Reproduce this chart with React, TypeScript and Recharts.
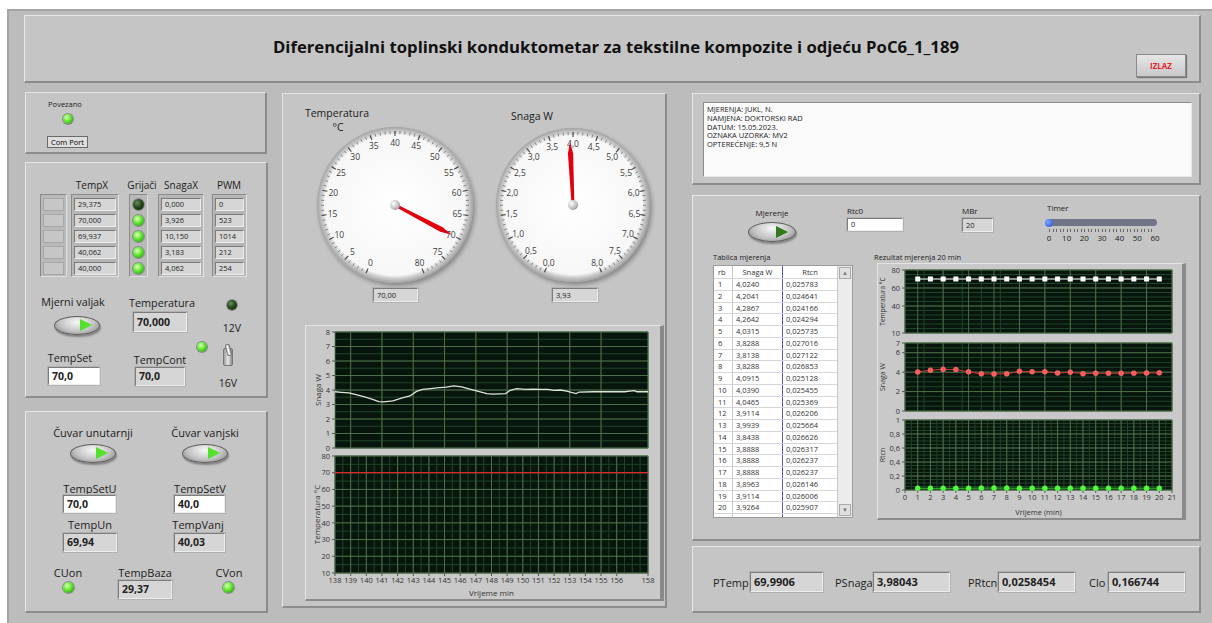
import React from "react";
import {
  LineChart,
  Line,
  XAxis,
  YAxis,
  CartesianGrid,
  PieChart,
  Pie,
  RadialBarChart,
  RadialBar,
  PolarAngleAxis
} from "recharts";

const FONT = '"Open Sans", "Noto Sans", Arial, sans-serif';

// ---- kanali (lijevi panel) ----
const tempX = [29.375, 70.0, 69.937, 40.062, 40.0];
const grijaci = [false, true, true, true, true];
const snagaX = [0.0, 3.926, 10.15, 3.183, 4.062];
const pwm = [0, 523, 1014, 212, 254];

// ---- instrumenti ----
const gaugeTemp = 70.0;
const gaugeSnaga = 3.93;

// ---- trend zadnjih 20 min ----
const trendTime = [
  138.0, 138.4, 138.9, 139.4, 139.9, 140.4, 140.8, 141.1, 141.7, 142.3, 142.8, 143.2,
  143.6, 144.1, 144.5, 145.1, 145.6, 146.1, 146.5, 147.1, 147.7, 148.1, 148.9, 149.2,
  149.6, 150.2, 150.7, 151.1, 151.6, 152.0, 152.4, 152.8, 153.4, 153.6, 154.5, 155.5,
  156.5, 157.1, 157.3, 158.0
];
const trendSnaga = [
  3.88, 3.84, 3.8, 3.66, 3.52, 3.36, 3.2, 3.18, 3.25, 3.45, 3.59, 3.9,
  4.05, 4.1, 4.14, 4.2, 4.28, 4.21, 4.1, 3.93, 3.75, 3.72, 3.75, 3.98,
  4.1, 4.05, 4.06, 4.05, 4.05, 3.98, 4.0, 3.93, 3.75, 3.86, 3.88, 3.88,
  3.88, 3.95, 3.88, 3.88
];
const trendTemp = [
  70.0, 70.0, 70.0, 70.0, 70.0, 70.0, 70.0, 70.0, 70.0, 70.0, 70.0, 70.0,
  70.0, 70.0, 70.0, 70.0, 70.0, 70.0, 70.0, 70.0, 70.0, 70.0, 70.0, 70.0,
  70.0, 70.0, 70.0, 70.0, 70.0, 70.0, 70.0, 70.0, 70.0, 70.0, 70.0, 70.0,
  70.0, 70.0, 70.0, 70.0
];
const trendTicks = [138, 139, 140, 141, 142, 143, 144, 145, 146, 147, 148, 149, 150, 151, 152, 153, 154, 155, 156, 158];
const trendSnagaTicks = [0, 1, 2, 3, 4, 5, 6, 7, 8];
const trendTempTicks = [10, 20, 30, 40, 50, 60, 70, 80];

// ---- tablica mjerenja ----
const mjerenjeRb = [1, 2, 3, 4, 5, 6, 7, 8, 9, 10, 11, 12, 13, 14, 15, 16, 17, 18, 19, 20];
const mjerenjeSnaga = [
  4.024, 4.2041, 4.2867, 4.2642, 4.0315, 3.8288, 3.8138, 3.8288, 4.0915, 4.039,
  4.0465, 3.9114, 3.9939, 3.8438, 3.8888, 3.8888, 3.8888, 3.8963, 3.9114, 3.9264
];
const mjerenjeRtcn = [
  0.025783, 0.024641, 0.024166, 0.024294, 0.025735, 0.027016, 0.027122, 0.026853, 0.025128, 0.025455,
  0.025369, 0.026206, 0.025664, 0.026626, 0.026317, 0.026237, 0.026237, 0.026146, 0.026006, 0.025907
];
const mjerenjeTemp = [
  70.0, 70.0, 69.99, 70.0, 69.99, 70.0, 70.0, 69.99, 70.0, 70.0,
  69.99, 70.0, 70.0, 69.99, 70.0, 70.0, 69.99, 70.0, 70.0, 69.99
];
const rezTicksX = [0, 1, 2, 3, 4, 5, 6, 7, 8, 9, 10, 11, 12, 13, 14, 15, 16, 17, 18, 19, 20, 21];
const rezTempTicks = [10, 40, 60, 80];
const rezSnagaTicks = [0, 2, 4, 6, 7];
const rezRtcnTicks = [0, 0.2, 0.4, 0.6, 0.8, 1];

const opis = [
  "MJERENJA: JUKL, N.",
  "NAMJENA: DOKTORSKI RAD",
  "DATUM: 15.05.2023.",
  "OZNAKA UZORKA: MV2",
  "OPTEREĆENJE: 9,5 N"
];
const timerTicks = [0, 10, 20, 30, 40, 50, 60];

const rezultati = [
  { label: "PTemp", value: "69,9906" },
  { label: "PSnaga", value: "3,98043" },
  { label: "PRtcn", value: "0,0258454" },
  { label: "Clo", value: "0,166744" }
];

// grid helper (mreža, ne podaci)
const steps = (a: number, b: number, s: number) => {
  const out: number[] = [];
  for (let v = a; v <= b + 1e-9; v += s) out.push(Math.round(v * 1000) / 1000);
  return out;
};

const dec = (v: number, n: number) => v.toFixed(n).replace(".", ",");
const comma = (v: number) => String(v).replace(".", ",");

const PLOT_BG = "#08150d";
const GRID_MINOR = "#1f4428";
const GRID_MAJOR = "#5a7850";
const AXS = { fontSize: 7.5, fill: "#333", fontFamily: FONT };

const trendData = trendTime.map((t, i) => ({ t, snaga: trendSnaga[i], temp: trendTemp[i] }));
const rezData = mjerenjeRb.map((rb, i) => ({
  rb,
  temp: mjerenjeTemp[i],
  snaga: mjerenjeSnaga[i],
  rtcn: mjerenjeRtcn[i]
}));

function Panel({ x, y, w, h, bg = "#c5c5c5" }: any) {
  return (
    <div
      style={{
        position: "absolute",
        left: x,
        top: y,
        width: w,
        height: h,
        background: bg,
        borderTop: "1px solid #e6e6e6",
        borderLeft: "1px solid #e6e6e6",
        borderRight: "2px solid #8c8c8c",
        borderBottom: "2px solid #8c8c8c",
        boxSizing: "border-box"
      }}
    />
  );
}

function T({ x, y, s = 11, b = false, left = false, color = "#1c1c1c", children }: any) {
  return (
    <div
      style={{
        position: "absolute",
        left: x,
        top: y,
        transform: left ? "translate(0,-50%)" : "translate(-50%,-50%)",
        fontSize: s,
        fontWeight: b ? 700 : 400,
        color,
        whiteSpace: "nowrap",
        lineHeight: 1
      }}
    >
      {children}
    </div>
  );
}

function Box({ x, y, w, h, text, white = false, bold = false, s = 8 }: any) {
  return (
    <div
      style={{
        position: "absolute",
        left: x,
        top: y,
        width: w,
        height: h,
        background: white ? "#ffffff" : "#d6d6d6",
        borderTop: "1px solid #7c7c7c",
        borderLeft: "1px solid #7c7c7c",
        borderRight: "1px solid #ededed",
        borderBottom: "1px solid #ededed",
        boxShadow: "0 0 0 1px #b2b2b2",
        boxSizing: "border-box",
        fontSize: s,
        fontWeight: bold ? 700 : 400,
        lineHeight: `${h - 2}px`,
        paddingLeft: 3,
        whiteSpace: "nowrap",
        overflow: "hidden",
        color: "#222"
      }}
    >
      {text}
    </div>
  );
}

function Frame({ x, y, w, h }: any) {
  return (
    <div
      style={{
        position: "absolute",
        left: x,
        top: y,
        width: w,
        height: h,
        background: "#b9b9b9",
        borderTop: "1px solid #8a8a8a",
        borderLeft: "1px solid #8a8a8a",
        borderRight: "1px solid #e0e0e0",
        borderBottom: "1px solid #e0e0e0",
        boxSizing: "border-box"
      }}
    />
  );
}

function Led({ x, y, d = 11, on = true }: any) {
  return (
    <div
      style={{
        position: "absolute",
        left: x - d / 2,
        top: y - d / 2,
        width: d,
        height: d,
        borderRadius: "50%",
        background: on
          ? "radial-gradient(circle at 38% 35%, #e4ffc8 0%, #74f040 35%, #38b01c 75%, #22700f 100%)"
          : "radial-gradient(circle at 38% 35%, #6d8a62 0%, #234a1a 45%, #0d1f09 100%)",
        boxShadow: "0 0 0 1px #8a8a8a"
      }}
    />
  );
}

function Toggle({ x, y, w = 46, h = 19, dark = false }: any) {
  return (
    <div
      style={{
        position: "absolute",
        left: x - w / 2,
        top: y - h / 2,
        width: w,
        height: h,
        borderRadius: "50%",
        background: "radial-gradient(ellipse at 50% 30%, #f6f6f6 0%, #c4c4c4 55%, #7c7c7c 100%)",
        border: "1px solid #5e5e5e",
        boxShadow: "1px 2px 2px rgba(0,0,0,0.35)",
        boxSizing: "border-box"
      }}
    >
      <div
        style={{
          position: "absolute",
          right: 7,
          top: (h - 2 - 12) / 2,
          width: 0,
          height: 0,
          borderLeft: `12px solid ${dark ? "#2f7a1c" : "#52e22c"}`,
          borderTop: "6px solid transparent",
          borderBottom: "6px solid transparent"
        }}
      />
    </div>
  );
}

// k: skala osi u koracima (snaga se crta u desetinkama)
function Gauge({ cx, cy, r, value, min, max, k, fmt }: any) {
  const size = 2 * r + 8;
  const face = r - 4;
  const m = { top: 0, right: 0, bottom: 0, left: 0 };
  const layer: any = { position: "absolute", left: 0, top: 0 };
  const START = 247;
  const END = -67;
  const span = (max - min) * k;

  const tickLabel = (p: any) => {
    const a = (-(p.payload?.coordinate ?? 0) * Math.PI) / 180;
    const d = 6;
    return (
      <text
        x={p.x - d * Math.cos(a)}
        y={p.y - d * Math.sin(a)}
        textAnchor="middle"
        dominantBaseline="central"
        fontSize={8.5}
        fill="#3c3c3c"
        fontFamily={FONT}
      >
        {fmt(p.payload.value / k)}
      </text>
    );
  };

  const needle = (p: any) => {
    if (p.index !== 0) return <g />;
    const a = (-p.endAngle * Math.PI) / 180;
    const ux = Math.cos(a);
    const uy = Math.sin(a);
    const nx = -uy;
    const ny = ux;
    const L = p.outerRadius;
    const px = (f: number, w: number) => `${p.cx + ux * L * f + nx * w},${p.cy + uy * L * f + ny * w}`;
    const pts = [px(0, 1.4), px(0.82, 2.6), px(1, 0), px(0.82, -2.6), px(0, -1.4)].join(" ");
    return <polygon points={pts} fill="#e2000c" />;
  };

  const axisLayer = (count: number, size2: number, major: boolean) => (
    <div style={layer}>
      <RadialBarChart
        width={size}
        height={size}
        margin={m}
        data={[{ v: value * k }]}
        cx="50%"
        cy="50%"
        innerRadius={0}
        outerRadius={face}
        startAngle={START}
        endAngle={END}
      >
        <PolarAngleAxis
          type="number"
          domain={[min * k, max * k]}
          tickCount={count}
          orientation="inner"
          tickSize={size2}
          axisLine={false}
          tick={major ? tickLabel : false}
          tickLine={major ? { stroke: "#4a4a4a", strokeWidth: 1.1 } : { stroke: "#707070", strokeWidth: 0.8 }}
        />
        <RadialBar dataKey="v" fill="none" isAnimationActive={false} />
      </RadialBarChart>
    </div>
  );

  return (
    <div style={{ position: "absolute", left: cx - size / 2, top: cy - size / 2, width: size, height: size }}>
      <div
        style={{
          position: "absolute",
          left: 4,
          top: 4,
          width: 2 * r,
          height: 2 * r,
          borderRadius: "50%",
          background:
            "radial-gradient(circle closest-side, #ffffff 0%, #f7f7f7 90%, #cfcfcf 94%, #a2a2a2 100%)",
          boxShadow: "2px 3px 4px rgba(0,0,0,0.3)"
        }}
      />
      {axisLayer(span + 1, 3, false)}
      {axisLayer(span / 5 + 1, 5, true)}
      <div style={layer}>
        <PieChart width={size} height={size} margin={m}>
          <Pie
            data={[{ v: value - min }, { v: max - value }]}
            dataKey="v"
            cx="50%"
            cy="50%"
            startAngle={START}
            endAngle={END}
            innerRadius={0}
            outerRadius={r - 14}
            fill="none"
            stroke="none"
            labelLine={false}
            label={needle}
            isAnimationActive={false}
          />
        </PieChart>
      </div>
      <div
        style={{
          position: "absolute",
          left: size / 2 - 5,
          top: size / 2 - 5,
          width: 10,
          height: 10,
          borderRadius: "50%",
          background: "radial-gradient(circle at 35% 35%, #ffffff 0%, #bdbdbd 55%, #6e6e6e 100%)"
        }}
      />
    </div>
  );
}

const squareDot = (p: any) => (
  <rect key={`sq-${p.index}`} x={p.cx - 2.5} y={p.cy - 2.5} width={5} height={5} fill="#ffffff" />
);

const yLabel = (value: string, offset: number, fs: number) => ({
  value,
  angle: -90,
  position: "insideLeft" as const,
  offset,
  style: { textAnchor: "middle", fontSize: fs, fill: "#333", fontFamily: FONT }
});

export default function App() {
  return (
    <div
      style={{
        position: "absolute",
        left: 0,
        top: 0,
        width: 1212,
        height: 623,
        background: "#ffffff",
        fontFamily: FONT,
        overflow: "hidden"
      }}
    >
      <div
        style={{
          position: "absolute",
          left: 7,
          top: 9,
          width: 1205,
          height: 614,
          background: "#bcbcbc",
          borderLeft: "2px solid #a4a4a4",
          borderTop: "2px solid #a4a4a4",
          boxSizing: "border-box"
        }}
      />

      {/* naslov */}
      <Panel x={24} y={15} w={1177} h={68} />
      <T x={616} y={47} s={16.7} b color="#111">
        Diferencijalni toplinski konduktometar za tekstilne kompozite i odjeću PoC6_1_189
      </T>
      <div
        style={{
          position: "absolute",
          left: 1136,
          top: 54,
          width: 50,
          height: 23,
          background: "linear-gradient(#e6e6e6, #c8c8c8)",
          border: "1px solid #8a8a8a",
          boxShadow: "1px 1px 1px #777",
          boxSizing: "border-box",
          color: "#e8202a",
          fontSize: 8,
          fontWeight: 700,
          textAlign: "center",
          lineHeight: "21px"
        }}
      >
        IZLAZ
      </div>

      {/* lijevo: veza */}
      <Panel x={25} y={92} w={242} h={62} />
      <T x={65} y={105} s={7.5}>Povezano</T>
      <Led x={68} y={119} d={10} />
      <div
        style={{
          position: "absolute",
          left: 47,
          top: 136,
          width: 41,
          height: 12,
          background: "#dedede",
          border: "1px solid #6a6a6a",
          boxSizing: "border-box",
          fontSize: 7.5,
          textAlign: "center",
          lineHeight: "10px"
        }}
      >
        Com Port
      </div>

      {/* lijevo: kanali */}
      <Panel x={25} y={162} w={243} h={236} />
      <T x={92} y={185} s={10}>TempX</T>
      <T x={142} y={185} s={10}>Grijači</T>
      <T x={181} y={185} s={10}>SnagaX</T>
      <T x={229} y={185} s={10}>PWM</T>
      <Frame x={40} y={194} w={27} h={83} />
      <Frame x={71} y={194} w={48} h={83} />
      <Frame x={129} y={194} w={19} h={83} />
      <Frame x={158} y={194} w={46} h={83} />
      <Frame x={212} y={194} w={35} h={83} />
      {tempX.map((v, i) => (
        <React.Fragment key={`k${i}`}>
          <div
            style={{
              position: "absolute",
              left: 43,
              top: 198 + i * 16,
              width: 21,
              height: 13,
              background: "#c6c6c6",
              border: "1px solid #a8a8a8",
              boxSizing: "border-box"
            }}
          />
          <Box x={74} y={198 + i * 16} w={42} h={13} text={dec(v, 3)} s={7.5} />
          <Led x={138.5} y={204.5 + i * 16} d={11} on={grijaci[i]} />
          <Box x={161} y={198 + i * 16} w={40} h={13} text={dec(snagaX[i], 3)} s={7.5} />
          <Box x={215} y={198 + i * 16} w={29} h={13} text={String(pwm[i])} s={7.5} />
        </React.Fragment>
      ))}
      <T x={73} y={302} s={10.8}>Mjerni valjak</T>
      <Toggle x={77} y={325} />
      <T x={162} y={303} s={10.8}>Temperatura</T>
      <Box x={133} y={312} w={54} h={20} text="70,000" bold s={10.5} />
      <Led x={232} y={305} d={10} on={false} />
      <T x={232} y={328} s={10.5}>12V</T>
      <T x={70} y={358} s={10.8}>TempSet</T>
      <Box x={48} y={367} w={52} h={18} text="70,0" white bold s={10.5} />
      <T x={160} y={360} s={10.8}>TempCont</T>
      <Box x={135} y={367} w={50} h={19} text="70,0" bold s={10.5} />
      <Led x={202} y={347} d={10} />
      <div
        style={{
          position: "absolute",
          left: 223,
          top: 348,
          width: 10,
          height: 18,
          borderRadius: 2,
          background: "linear-gradient(90deg, #9c9c9c, #e8e8e8, #8a8a8a)",
          border: "1px solid #777",
          boxSizing: "border-box"
        }}
      />
      <div
        style={{
          position: "absolute",
          left: 226,
          top: 344,
          width: 5,
          height: 12,
          borderRadius: 2,
          background: "linear-gradient(90deg, #d8d8d8, #ffffff, #9a9a9a)",
          border: "1px solid #777",
          transform: "rotate(-15deg)",
          boxSizing: "border-box"
        }}
      />
      <T x={228} y={383} s={10.5}>16V</T>

      {/* lijevo: čuvari */}
      <Panel x={25} y={411} w={243} h={202} />
      <T x={93} y={432} s={11}>Čuvar unutarnji</T>
      <T x={205} y={432} s={11}>Čuvar vanjski</T>
      <Toggle x={93} y={453} />
      <Toggle x={205} y={453} />
      <T x={90} y={488} s={11}>TempSetU</T>
      <T x={200} y={488} s={11}>TempSetV</T>
      <Box x={63} y={495} w={53} h={18} text="70,0" white bold s={10.5} />
      <Box x={174} y={495} w={51} h={18} text="40,0" white bold s={10.5} />
      <T x={90} y={524} s={11}>TempUn</T>
      <T x={198} y={524} s={11}>TempVanj</T>
      <Box x={63} y={533} w={54} h={19} text="69,94" bold s={10.5} />
      <Box x={174} y={533} w={51} h={19} text="40,03" bold s={10.5} />
      <T x={68} y={572} s={11}>CUon</T>
      <T x={145} y={572} s={11}>TempBaza</T>
      <T x={229} y={572} s={11}>CVon</T>
      <Led x={68} y={587} d={11} />
      <Led x={228} y={587} d={11} />
      <Box x={118} y={580} w={54} h={19} text="29,37" bold s={10.5} />

      {/* sredina */}
      <Panel x={282} y={93} w={385} h={515} />
      <T x={337} y={113} s={10.5}>Temperatura</T>
      <T x={338} y={127} s={10.5}>°C</T>
      <T x={532} y={116} s={10.5}>Snaga W</T>
      <Gauge cx={395} cy={205} r={78} value={gaugeTemp} min={0} max={80} k={1} fmt={(v: number) => String(v)} />
      <Gauge cx={573} cy={205} r={77} value={gaugeSnaga} min={0} max={8} k={10} fmt={(v: number) => dec(v, 1)} />
      <Box x={373} y={288} w={45} h={14} text={dec(gaugeTemp, 2)} s={7.5} />
      <Box x={552} y={288} w={46} h={14} text={dec(gaugeSnaga, 2)} s={7.5} />

      <div
        style={{
          position: "absolute",
          left: 305,
          top: 325,
          width: 359,
          height: 276,
          background: "#c9c9c9",
          borderTop: "1px solid #e4e4e4",
          borderLeft: "1px solid #e4e4e4",
          borderRight: "4px solid #8a8a8a",
          borderBottom: "2px solid #8a8a8a",
          boxSizing: "border-box"
        }}
      />
      <div style={{ position: "absolute", left: 300, top: 326 }}>
        <LineChart width={355} height={128} data={trendData} margin={{ top: 6, right: 7, bottom: 6, left: 0 }}>
          <CartesianGrid
            horizontalValues={steps(0, 8, 0.5)}
            verticalValues={steps(138, 158, 0.5)}
            stroke={GRID_MINOR}
            fill={PLOT_BG}
          />
          <CartesianGrid stroke={GRID_MAJOR} strokeWidth={0.8} />
          <XAxis dataKey="t" type="number" domain={[138, 158]} ticks={trendTicks} hide />
          <YAxis
            domain={[0, 8]}
            ticks={trendSnagaTicks}
            interval={0}
            width={35}
            tick={AXS}
            tickSize={3}
            tickLine={{ stroke: "#555" }}
            axisLine={false}
            label={yLabel("Snaga W", 18, 8)}
          />
          <Line type="linear" dataKey="snaga" stroke="#dce4dc" strokeWidth={1.3} dot={false} isAnimationActive={false} />
        </LineChart>
      </div>
      <div style={{ position: "absolute", left: 300, top: 450 }}>
        <LineChart width={355} height={150} data={trendData} margin={{ top: 6, right: 7, bottom: 0, left: 0 }}>
          <CartesianGrid
            horizontalValues={steps(10, 80, 5)}
            verticalValues={steps(138, 158, 0.5)}
            stroke={GRID_MINOR}
            fill={PLOT_BG}
          />
          <CartesianGrid stroke={GRID_MAJOR} strokeWidth={0.8} />
          <XAxis
            dataKey="t"
            type="number"
            domain={[138, 158]}
            ticks={trendTicks}
            interval={0}
            height={27}
            tick={AXS}
            tickSize={3}
            tickLine={{ stroke: "#555" }}
            axisLine={false}
            label={{
              value: "Vrijeme min",
              position: "insideBottom",
              offset: 4,
              style: { fontSize: 8, fill: "#333", fontFamily: FONT }
            }}
          />
          <YAxis
            domain={[10, 80]}
            ticks={trendTempTicks}
            interval={0}
            width={35}
            tick={AXS}
            tickSize={3}
            tickLine={{ stroke: "#555" }}
            axisLine={false}
            label={yLabel("Temperatura °C", 17, 8)}
          />
          <Line type="linear" dataKey="temp" stroke="#e0282a" strokeWidth={1.2} dot={false} isAnimationActive={false} />
        </LineChart>
      </div>

      {/* desno: opis */}
      <Panel x={692} y={93} w={509} h={92} />
      <div
        style={{
          position: "absolute",
          left: 703,
          top: 102,
          width: 489,
          height: 75,
          background: "#fafafa",
          borderTop: "1px solid #8a8a8a",
          borderLeft: "1px solid #8a8a8a",
          borderRight: "1px solid #e8e8e8",
          borderBottom: "1px solid #e8e8e8",
          boxSizing: "border-box",
          padding: "2px 0 0 3px",
          fontSize: 7.5,
          lineHeight: "8.8px",
          color: "#222"
        }}
      >
        {opis.map((l) => (
          <div key={l}>{l}</div>
        ))}
      </div>

      {/* desno: mjerenje */}
      <Panel x={692} y={195} w={509} h={346} />
      <T x={772} y={213} s={8}>Mjerenje</T>
      <Toggle x={772} y={232} w={48} h={20} dark />
      <T x={847} y={211} s={8} left>Rtc0</T>
      <Box x={847} y={218} w={56} h={13} text="0" white s={7.5} />
      <T x={962} y={211} s={8} left>MBr</T>
      <Box x={962} y={218} w={31} h={14} text="20" s={7.5} />
      <T x={1047} y={208} s={8} left>Timer</T>
      <div
        style={{
          position: "absolute",
          left: 1047,
          top: 219,
          width: 110,
          height: 7,
          borderRadius: 4,
          background: "#727488"
        }}
      />
      <div
        style={{
          position: "absolute",
          left: 1045,
          top: 218.5,
          width: 8,
          height: 8,
          borderRadius: "50%",
          background: "radial-gradient(circle at 35% 35%, #7fa6ff, #1f4fd8)"
        }}
      />
      <div
        style={{
          position: "absolute",
          left: 1049,
          top: 229,
          width: 106,
          height: 3,
          backgroundImage: "repeating-linear-gradient(90deg, #666 0 1px, transparent 1px 3.53px)"
        }}
      />
      {timerTicks.map((t) => (
        <T key={t} x={1049 + (t / 60) * 106} y={238} s={8}>
          {t}
        </T>
      ))}

      <T x={713} y={258} s={7.5} left>Tablica mjerenja</T>
      <div
        style={{
          position: "absolute",
          left: 713,
          top: 265,
          width: 140,
          height: 253,
          background: "#ffffff",
          border: "1px solid #9a9a9a",
          boxSizing: "border-box",
          overflow: "hidden",
          fontSize: 7.5,
          color: "#333"
        }}
      >
        <div style={{ position: "absolute", left: 18, top: 0, width: 1, height: 253, background: "#c8c8c8" }} />
        <div style={{ position: "absolute", left: 68, top: 0, width: 1, height: 253, background: "#5555c8" }} />
        <div style={{ position: "absolute", left: 123, top: 0, width: 1, height: 253, background: "#c8c8c8" }} />
        <div style={{ position: "absolute", left: 4, top: 1, lineHeight: "11px" }}>rb</div>
        <div style={{ position: "absolute", left: 19, width: 49, top: 1, lineHeight: "11px", textAlign: "center" }}>
          Snaga W
        </div>
        <div style={{ position: "absolute", left: 69, width: 54, top: 1, lineHeight: "11px", textAlign: "center" }}>
          Rtcn
        </div>
        {mjerenjeRb.map((rb, i) => (
          <React.Fragment key={rb}>
            <div
              style={{
                position: "absolute",
                left: 0,
                top: 12 + i * 11.75,
                width: 123,
                height: 1,
                background: "#d6d6d6"
              }}
            />
            <div style={{ position: "absolute", left: 4, top: 13 + i * 11.75, lineHeight: "11px" }}>{rb}</div>
            <div style={{ position: "absolute", left: 22, top: 13 + i * 11.75, lineHeight: "11px" }}>
              {dec(mjerenjeSnaga[i], 4)}
            </div>
            <div style={{ position: "absolute", left: 72, top: 13 + i * 11.75, lineHeight: "11px" }}>
              {dec(mjerenjeRtcn[i], 6)}
            </div>
          </React.Fragment>
        ))}
        <div style={{ position: "absolute", left: 0, top: 247, width: 123, height: 1, background: "#d6d6d6" }} />
        <div style={{ position: "absolute", left: 124, top: 0, width: 14, height: 251, background: "#ececec" }} />
        <div
          style={{
            position: "absolute",
            left: 125,
            top: 1,
            width: 12,
            height: 12,
            background: "#e0e0e0",
            border: "1px solid #aaa",
            boxSizing: "border-box",
            fontSize: 6,
            textAlign: "center",
            lineHeight: "10px",
            color: "#777"
          }}
        >
          ▲
        </div>
        <div
          style={{
            position: "absolute",
            left: 125,
            top: 238,
            width: 12,
            height: 12,
            background: "#e0e0e0",
            border: "1px solid #aaa",
            boxSizing: "border-box",
            fontSize: 6,
            textAlign: "center",
            lineHeight: "10px",
            color: "#777"
          }}
        >
          ▼
        </div>
      </div>

      <T x={874} y={258} s={7.5} left>Rezultat mjerenja 20 min</T>
      <div
        style={{
          position: "absolute",
          left: 877,
          top: 263,
          width: 309,
          height: 257,
          background: "#c9c9c9",
          borderTop: "1px solid #e4e4e4",
          borderLeft: "1px solid #e4e4e4",
          borderRight: "4px solid #8a8a8a",
          borderBottom: "2px solid #8a8a8a",
          boxSizing: "border-box"
        }}
      />
      <div style={{ position: "absolute", left: 877, top: 264 }}>
        <LineChart width={302} height={75} data={rezData} margin={{ top: 6, right: 7, bottom: 6, left: 0 }}>
          <CartesianGrid horizontalValues={steps(10, 80, 5)} verticalValues={steps(0, 21, 0.5)} stroke={GRID_MINOR} fill={PLOT_BG} />
          <CartesianGrid stroke={GRID_MAJOR} strokeWidth={0.8} />
          <XAxis dataKey="rb" type="number" domain={[0, 21]} ticks={rezTicksX} hide />
          <YAxis
            domain={[10, 80]}
            ticks={rezTempTicks}
            interval={0}
            width={28}
            tick={AXS}
            tickSize={3}
            tickLine={{ stroke: "#555" }}
            axisLine={false}
            label={yLabel("Temperatura °C", 6, 6.5)}
          />
          <Line type="linear" dataKey="temp" stroke="#f4f4f4" strokeWidth={1} dot={squareDot} isAnimationActive={false} />
        </LineChart>
      </div>
      <div style={{ position: "absolute", left: 877, top: 337 }}>
        <LineChart width={302} height={80} data={rezData} margin={{ top: 6, right: 7, bottom: 6, left: 0 }}>
          <CartesianGrid horizontalValues={steps(0, 7, 0.5)} verticalValues={steps(0, 21, 0.5)} stroke={GRID_MINOR} fill={PLOT_BG} />
          <CartesianGrid stroke={GRID_MAJOR} strokeWidth={0.8} />
          <XAxis dataKey="rb" type="number" domain={[0, 21]} ticks={rezTicksX} hide />
          <YAxis
            domain={[0, 7]}
            ticks={rezSnagaTicks}
            interval={0}
            width={28}
            tick={AXS}
            tickSize={3}
            tickLine={{ stroke: "#555" }}
            axisLine={false}
            label={yLabel("Snaga W", 6, 7)}
          />
          <Line
            type="linear"
            dataKey="snaga"
            stroke="#c83a3a"
            strokeWidth={1}
            dot={{ r: 2.5, fill: "#ff5a5a", stroke: "#ff7a7a", strokeWidth: 0.5 }}
            isAnimationActive={false}
          />
        </LineChart>
      </div>
      <div style={{ position: "absolute", left: 877, top: 414 }}>
        <LineChart width={302} height={104} data={rezData} margin={{ top: 6, right: 7, bottom: 0, left: 0 }}>
          <CartesianGrid horizontalValues={steps(0, 1, 0.05)} verticalValues={steps(0, 21, 0.5)} stroke={GRID_MINOR} fill={PLOT_BG} />
          <CartesianGrid stroke={GRID_MAJOR} strokeWidth={0.8} />
          <XAxis
            dataKey="rb"
            type="number"
            domain={[0, 21]}
            ticks={rezTicksX}
            interval={0}
            height={28}
            tick={AXS}
            tickSize={3}
            tickLine={{ stroke: "#555" }}
            axisLine={false}
            label={{
              value: "Vrijeme (min)",
              position: "insideBottom",
              offset: 3,
              style: { fontSize: 7.5, fill: "#333", fontFamily: FONT }
            }}
          />
          <YAxis
            domain={[0, 1]}
            ticks={rezRtcnTicks}
            interval={0}
            width={28}
            tick={AXS}
            tickFormatter={comma}
            tickSize={3}
            tickLine={{ stroke: "#555" }}
            axisLine={false}
            label={yLabel("Rtcn", 6, 7)}
          />
          <Line
            type="linear"
            dataKey="rtcn"
            stroke="#36c42a"
            strokeWidth={1}
            dot={{ r: 2.5, fill: "#4cff3a", stroke: "#6cff5a", strokeWidth: 0.5 }}
            isAnimationActive={false}
          />
        </LineChart>
      </div>

      {/* desno: rezultati */}
      <Panel x={692} y={546} w={509} h={67} />
      {rezultati.map((r, i) => {
        const lx = [713, 835, 968, 1089][i];
        const bx = [750, 873, 998, 1108][i];
        return (
          <React.Fragment key={r.label}>
            <T x={lx} y={582} s={11} left>
              {r.label}
            </T>
            <Box x={bx} y={572} w={[73, 77, 77, 77][i]} h={20} text={r.value} bold s={11} />
          </React.Fragment>
        );
      })}
    </div>
  );
}
